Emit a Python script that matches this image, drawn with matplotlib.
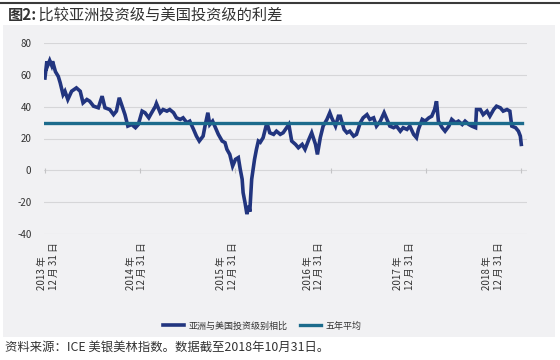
import matplotlib
matplotlib.use("Agg")
import matplotlib.pyplot as plt
from matplotlib.patches import Rectangle
from matplotlib.lines import Line2D

plt.rcParams['font.family'] = ['Noto Sans CJK SC', 'DejaVu Sans']

# ---- data (years since 2013-10-31, spread in bp) ----
years = [0.00, 0.02, 0.03, 0.05, 0.07, 0.08, 0.11, 0.14, 0.16, 0.19, 0.21, 0.24, 0.28, 0.33, 0.37,
         0.40, 0.44, 0.47, 0.51, 0.56, 0.60, 0.63, 0.68, 0.72, 0.75, 0.78, 0.81, 0.84, 0.87, 0.91,
         0.95, 0.98, 1.02, 1.05, 1.09, 1.12, 1.16, 1.17, 1.21, 1.24, 1.28, 1.31, 1.35, 1.38, 1.42,
         1.45, 1.49, 1.52, 1.56, 1.59, 1.62, 1.66, 1.68, 1.71, 1.73, 1.76, 1.79, 1.82, 1.86, 1.89,
         1.91, 1.94, 1.97, 2.00, 2.03, 2.05, 2.07, 2.08, 2.10, 2.12, 2.14, 2.15, 2.17, 2.20, 2.22,
         2.24, 2.26, 2.29, 2.33, 2.36, 2.40, 2.43, 2.47, 2.50, 2.56, 2.59, 2.63, 2.66, 2.70, 2.73,
         2.77, 2.80, 2.84, 2.86, 2.89, 2.92, 2.96, 2.99, 3.01, 3.05, 3.08, 3.10, 3.14, 3.17, 3.20,
         3.24, 3.27, 3.31, 3.34, 3.38, 3.41, 3.45, 3.48, 3.52, 3.56, 3.59, 3.62, 3.66, 3.69, 3.73,
         3.76, 3.80, 3.83, 3.87, 3.90, 3.92, 3.96, 3.99, 4.03, 4.06, 4.09, 4.11, 4.12, 4.13, 4.17,
         4.20, 4.24, 4.27, 4.31, 4.34, 4.38, 4.41, 4.45, 4.48, 4.52, 4.53, 4.57, 4.60, 4.64, 4.67,
         4.71, 4.74, 4.78, 4.81, 4.85, 4.88, 4.90, 4.94, 4.97, 4.99, 5.00]
spread = [58, 68.5, 66, 69, 66, 68.5, 62, 59, 55, 47.6, 49.7, 44.5, 49.7, 51.8, 49.7,
          42.4, 44.5, 43.4, 40.3, 39.3, 46.6, 39.3, 38.2, 35, 37.2, 45.6, 40.3, 35, 27.8, 28.8,
          26.8, 28.8, 37.2, 36.2, 33, 36.2, 40.3, 42, 36.2, 38.2, 37.2, 38.2, 36.2, 33, 32,
          33, 29.9, 30.9, 25.7, 21.5, 18.4, 21.5, 27.8, 36.2, 28.8, 30.9, 26.8, 22.6, 18.4, 17.4,
          13.2, 10, 2.7, 6.9, 8, 0.6, -5.6, -14, -20.3, -27.5, -22.4, -26, -5.6, 6.9, 13.2,
          18.4, 17.6, 20.5, 29.9, 23.6, 22.6, 24.6, 22.6, 23.6, 28.8, 18.4, 16.3, 14.2, 16.3, 13.2,
          19.4, 23.6, 16.3, 10, 20.5, 27.8, 32, 36.2, 33, 27.8, 34, 34, 25.7, 23.6, 24.6,
          21.5, 22.6, 29.9, 33, 35, 32, 33, 27.8, 30.9, 36.2, 32, 27.8, 26.8, 27.8, 24.6,
          26.8, 25.7, 27.8, 22.6, 20.5, 25.7, 32, 30.9, 33, 34, 38.2, 43.4, 37.2, 30.9, 26.8,
          24.6, 27.8, 32, 29.9, 30.9, 28.8, 30.9, 28.8, 27.8, 26.8, 38.2, 38.2, 35, 37.2, 34,
          38.2, 40.3, 39.3, 37.2, 38.2, 37.2, 27.8, 26.8, 24.6, 21.5, 16.3]
five_year_avg = 30

series_names = ['亚洲与美国投资级别相比', '五年平均']
y_ticks = [-40, -20, 0, 20, 40, 60, 80]
x_label_pos = [0.03, 0.96, 1.91, 2.82, 3.77, 4.70]
x_labels = ['2013 年\n12 月 31 日', '2014 年\n12 月 31 日', '2015 年\n12 月 31 日',
            '2016 年\n12 月 31 日', '2017 年\n12 月 31 日', '2018 年\n12 月 31 日']
year_ticks = [0, 1, 2, 3, 4, 5]

title_bold = '图2:'
title_rest = ' 比较亚洲投资级与美国投资级的利差'
source = '资料来源：ICE 美银美林指数。数据截至2018年10月31日。'

navy = '#22357f'
teal = '#1c6b8c'
bg = '#f1f1f3'
grid_c = '#d6d6d8'

fig = plt.figure(figsize=(5.6, 3.6), dpi=100)
fig.patch.set_facecolor('white')
fig.patches.append(Rectangle((3/560, 1-337/360), 552/560, 312/360, transform=fig.transFigure,
                             facecolor=bg, edgecolor='none', zorder=-10))
fig.lines.append(Line2D([0, 1], [1-3/360, 1-3/360], transform=fig.transFigure,
                        color='#3a3a3a', lw=1.5))

ax = fig.add_axes([44/560, 1-234/360, 483/560, 191/360])
ax.set_facecolor(bg)
ax.set_xlim(-0.01, 5.06)
ax.set_ylim(-40, 80)
for s in ax.spines.values():
    s.set_visible(False)
ax.set_yticks(y_ticks)
ax.set_yticklabels([str(v) for v in y_ticks], fontsize=7, color='#333333')
ax.tick_params(axis='y', length=0, pad=9)
ax.yaxis.grid(True, color=grid_c, lw=0.8)
ax.set_axisbelow(True)
ax.set_xticks(x_label_pos)
ax.set_xticklabels(x_labels, rotation=90, fontsize=7, color='#333333', multialignment='left')
ax.tick_params(axis='x', length=0, pad=6)

ax.vlines(year_ticks, -1.5, 1.5, color='#c4c4c6', lw=0.8, zorder=1)

ax.plot(years, spread, color=navy, lw=2.6, solid_joinstyle='miter', zorder=3, label=series_names[0])
ax.plot([years[0], years[-1] + 0.01], [five_year_avg, five_year_avg], color=teal, lw=2.4,
        zorder=4, label=series_names[1])

leg = fig.legend(loc='center', bbox_to_anchor=(262/560, 1-326/360), ncol=2, frameon=False,
                 fontsize=6.5, handlelength=2.3, columnspacing=1.4, handletextpad=0.5)
for t in leg.get_texts():
    t.set_color('#333333')

fig.text(8/560, 1-15/360, title_bold, fontsize=11, fontweight='bold', color='#333333', va='center')
fig.text(35/560, 1-15/360, title_rest, fontsize=11, color='#333333', va='center')
fig.text(5/560, 1-347/360, source, fontsize=8.9, color='#333333', va='center')

fig.savefig('out.png', dpi=100, facecolor='white')
